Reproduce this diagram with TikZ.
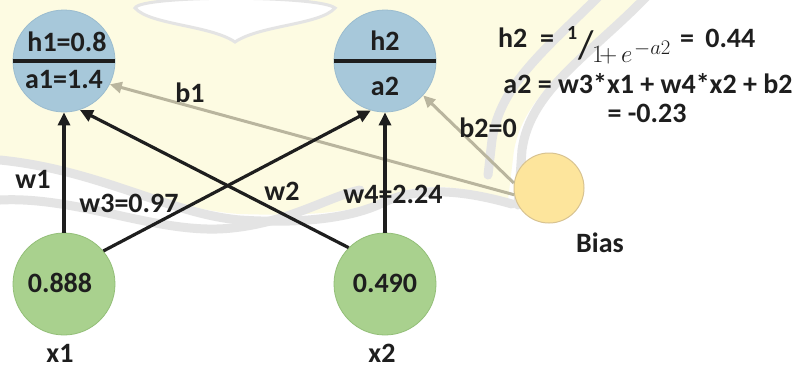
\documentclass[tikz,border=0pt]{standalone}
\usepackage{fontspec}
\setmainfont{Carlito}
\usetikzlibrary{arrows.meta}
\definecolor{ink}{HTML}{1E1E1E}
\definecolor{hidfill}{HTML}{A7C8DA}
\definecolor{hidline}{HTML}{9BBCCF}
\definecolor{infill}{HTML}{A9D18E}
\definecolor{inline}{HTML}{93BF78}
\definecolor{biasfill}{HTML}{FDE59C}
\definecolor{biasline}{HTML}{D8C391}
\definecolor{biasarrow}{HTML}{B9B59E}
\definecolor{wmfill}{HTML}{FDFBE2}
\definecolor{wmband}{HTML}{E4E4E4}
\tikzset{
  lbl/.style={font=\fontsize{28}{32}\selectfont\bfseries, text=ink, inner sep=0pt, anchor=base},
  mathpart/.style={text=ink, inner sep=0pt, anchor=base west},
  hidden/.style={circle, minimum size=102pt, fill=hidfill, draw=hidline, line width=0.8pt, inner sep=0pt},
  input/.style={circle, minimum size=102pt, fill=infill, draw=inline, line width=0.8pt, inner sep=0pt},
  biasnode/.style={circle, minimum size=70pt, fill=biasfill, draw=biasline, line width=1pt, inner sep=0pt},
  weight/.style={draw=ink, line width=3.2pt, -{Triangle[length=13pt,width=12pt]}},
  biasedge/.style={draw=biasarrow, line width=3pt, -{Triangle[length=12pt,width=11pt]}},
  divider/.style={draw=ink, line width=3.5pt},
  band/.style={draw=wmband, line width=9pt, line cap=round}
}
\begin{document}
\begin{tikzpicture}[x=1pt,y=-1pt]
\useasboundingbox (0,0) rectangle (801,368);
\fill[white] (0,0) rectangle (801,368);

% faint logo watermark in the background
\fill[wmfill] (0,0) -- (640,0) .. controls (585,55) and (525,90) .. (514,150)
  -- (508,200) .. controls (470,188) and (420,178) .. (380,200)
  .. controls (350,214) and (300,216) .. (240,214)
  .. controls (170,210) and (100,170) .. (0,160) -- cycle;
\draw[band] (648,-5) .. controls (590,55) and (530,90) .. (522,150) -- (518,205);
\draw[band] (600,-5) .. controls (545,50) and (500,85) .. (492,140) -- (488,175);
\draw[band] (0,160) .. controls (100,170) and (170,214) .. (240,220)
  .. controls (300,224) and (350,218) .. (380,204) .. controls (420,184) and (470,192) .. (512,204);
\draw[band] (0,200) .. controls (80,196) and (160,236) .. (232,228)
  .. controls (290,222) and (330,196) .. (360,190);
\fill[white] (135,8) .. controls (140,-5) and (320,-5) .. (335,8)
  .. controls (320,25) and (260,25) .. (235,42) .. controls (210,25) and (150,25) .. (135,8) -- cycle;
\draw[wmband, line width=3pt] (135,8) .. controls (140,-5) and (320,-5) .. (335,8)
  .. controls (320,25) and (260,25) .. (235,42) .. controls (210,25) and (150,25) .. (135,8) -- cycle;

% neurons
\node[hidden] (h1) at (64,61) {};
\node[hidden] (h2) at (385,61) {};
\node[input] (x1) at (64,284) {};
\node[input] (x2) at (385,284) {};
\node[biasnode] (bias) at (549,188) {};

\draw[divider] (h1.west) -- (h1.east);
\draw[divider] (h2.west) -- (h2.east);

\node[lbl] (h1top) at (67,51) {h1=0.8};
\node[lbl] (h1bot) at (64,88) {a1=1.4};
\node[lbl] (h2top) at (385,50) {h2};
\node[lbl] (h2bot) at (385,95) {a2};
\node[lbl] (x1val) at (60,292) {0.888};
\node[lbl] (x2val) at (385,292) {0.490};
\node[lbl] (x1name) at (60,362) {x1};
\node[lbl] (x2name) at (382,362) {x2};
\node[lbl] (biasname) at (600,252) {Bias};

% bias connections
\draw[biasedge] (bias.191) -- (h1.333);
\draw[biasedge] (bias.172) -- (h2.318);

% weighted connections
\draw[weight] (x1.north) -- (h1.south);
\draw[weight] (x2.135) -- (h1.288);
\draw[weight] (x1.40) -- (h2.254);
\draw[weight] (x2.north) -- (h2.south);

% edge labels
\node[lbl] (lw1) at (33,188) {w1};
\node[lbl] (lw3) at (129,212) {w3=0.97};
\node[lbl] (lw2) at (282,200) {w2};
\node[lbl] (lw4) at (393,203) {w4=2.24};
\node[lbl] (lb1) at (190,102) {b1};
\node[lbl] (lb2) at (488,137) {b2=0};

% output of the second hidden neuron: h2 = 1 / (1 + e^{-a2})
\node[lbl, anchor=base west] (eqa) at (498,47) {h2\ \ =};
\node[mathpart, font=\fontsize{20}{22}\selectfont\bfseries] (eqnum) at (567,39) {1};
\node[mathpart, font=\fontsize{40}{44}\selectfont, anchor=base] (eqslash) at (586,58) {/};
\node[mathpart, font=\fontsize{23}{26}\selectfont] (eqden) at (592,62) {$1\!+$};
\node[mathpart, font=\fontsize{23}{26}\selectfont] (eqe) at (621,62) {$e$};
\node[mathpart, font=\fontsize{20}{22}\selectfont] (eqexp) at (634,54) {$-a2$};
\node[lbl, anchor=base west] (eqb) at (680,47) {=\hspace{0.4em}0.44};
\node[lbl] (eqc) at (648,93) {a2 = w3*x1 + w4*x2 + b2};
\node[lbl] (eqd) at (647,122) {= -0.23};
\end{tikzpicture}
\end{document}
